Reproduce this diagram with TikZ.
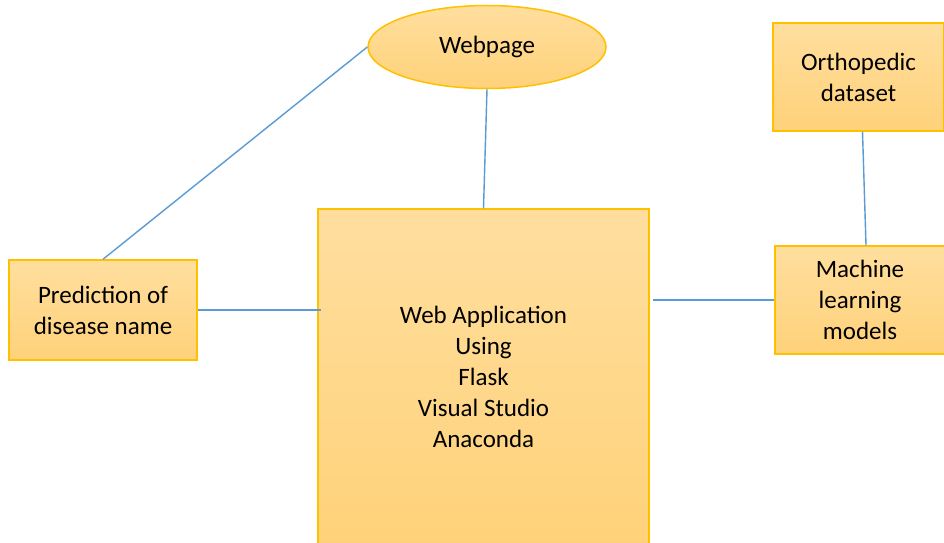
\documentclass[tikz,border=0pt]{standalone}
\usepackage{fontspec}
\setmainfont{Carlito}
\usetikzlibrary{shapes.geometric}
\definecolor{boxtop}{RGB}{255,222,158}
\definecolor{boxbottom}{RGB}{255,210,122}
\definecolor{boxline}{RGB}{255,192,0}
\definecolor{linkline}{RGB}{91,155,213}
\tikzset{
  blockbox/.style = {draw = boxline, line width = 1.5pt, top color = boxtop, bottom color = boxbottom, align = center, inner sep = 0pt, font = \fontsize{25}{31}\selectfont},
  link/.style = {draw = linkline, line width = 1.4pt}
}
\begin{document}
\begin{tikzpicture}[x = 1pt, y = 1pt]
\useasboundingbox (0,0) rectangle (944,542);
\clip (0,0) rectangle (944,542);
\fill[white] (0,0) rectangle (944,542);
\node[blockbox, ellipse, minimum width = 238pt, minimum height = 83pt] (web) at (487,495) {Webpage};
\node[blockbox, minimum width = 331pt, minimum height = 336pt] (app) at (483.5,165) {Web Application\\Using\\Flask\\Visual Studio\\Anaconda};
\node[blockbox, minimum width = 188pt, minimum height = 100pt] (pred) at (103,232) {Prediction of\\disease name};
\node[blockbox, minimum width = 171pt, minimum height = 108pt] (ortho) at (858.5,465) {Orthopedic\\dataset};
\node[blockbox, minimum width = 170pt, minimum height = 108pt] (ml) at (860,242) {Machine\\learning\\models};
% connectors
\draw[link] (web.west) -- (pred.north);
\draw[link] (web.south) -- (app.north);
\draw[link] (pred.east) -- ([xshift = 4pt]pred.east -| app.west);
\draw[link] (ml.west) -- ([xshift = 3pt]ml.west -| app.east);
\draw[link] ([xshift = 4pt]ortho.south) -- ([xshift = 6pt]ml.north);
\end{tikzpicture}
\end{document}
